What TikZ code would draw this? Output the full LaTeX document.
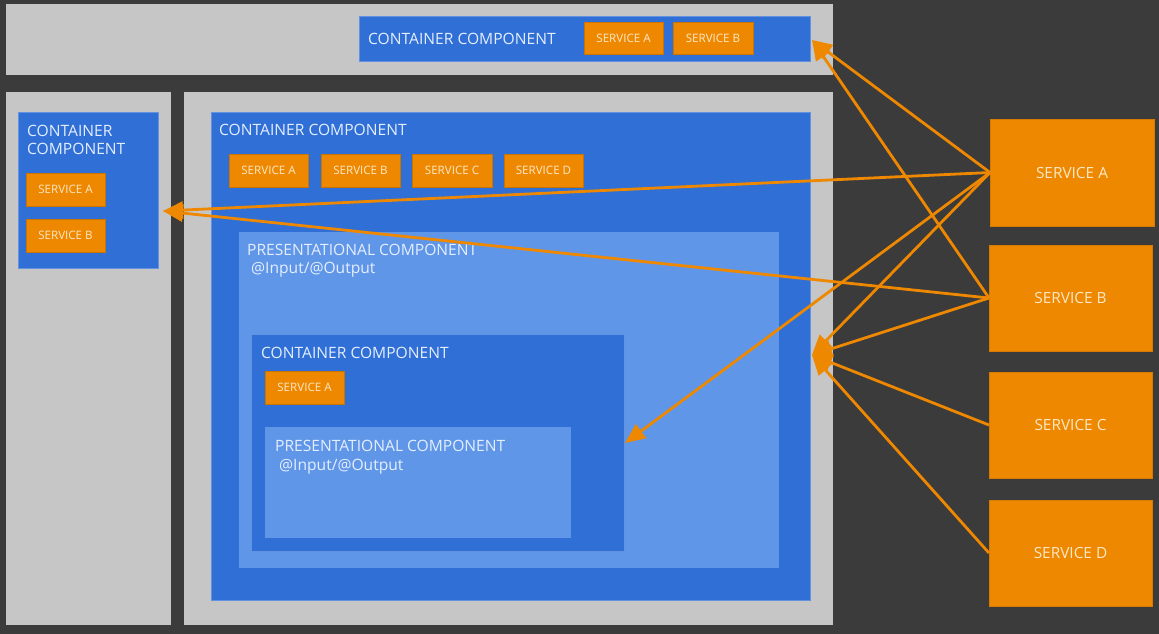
\documentclass[tikz,border=0pt]{standalone}
\usepackage{fontspec}
\setmainfont{Open Sans}
\usetikzlibrary{fit,arrows.meta}
\definecolor{bg}{HTML}{3B3B3B}
\definecolor{panel}{HTML}{C6C6C6}
\definecolor{cblue}{HTML}{2F6FD6}
\definecolor{pblue}{HTML}{6096E8}
\definecolor{orng}{HTML}{EE8800}
\definecolor{txtw}{HTML}{E4EEFF}
\definecolor{txto}{HTML}{FDE8C6}
\begin{document}
\begin{tikzpicture}[x=1pt,y=-1pt,
  box/.style={inner sep=0pt, outer sep=0pt},
  panelbox/.style={box, fill=panel},
  contbox/.style={box, fill=cblue, draw=cblue!75!white, line width=0.8pt},
  presbox/.style={box, fill=pblue},
  smalltxt/.style={inner sep=0pt, text=txto, font=\fontsize{11.6}{14}\selectfont},
  bigtxt/.style={inner sep=0pt, text=txto, font=\fontsize{15.4}{18}\selectfont},
  svcsmall/.style={box, fill=orng, draw=orng!85!black, line width=0.5pt, label={[smalltxt]center:#1}},
  svcbig/.style={box, fill=orng, draw=orng!90!black, line width=0.5pt, label={[bigtxt]center:#1}},
  lbl/.style={anchor=base west, inner sep=0pt, text=txtw, font=\fontsize{15.6}{18}\selectfont},
  link/.style={draw=orng, line width=2.8pt, -{Triangle[length=20pt,width=17pt]}}]

\fill[bg] (0,0) rectangle (1159,634);
\useasboundingbox (0,0) rectangle (1159,634);

% panels
\node[panelbox, fit={(6,4) (833,75)}] (topP) {};
\node[panelbox, fit={(6,92) (171,625)}] (leftP) {};
\node[panelbox, fit={(184,92) (833,625)}] (bigP) {};

% top container
\node[contbox, fit={(359,16) (810,61)}] (topC) {};
\node[lbl] (topL) at (368,45) {CONTAINER COMPONENT};
\node[svcsmall=SERVICE A, fit={(584,22) (663,54)}] (topSA) {};
\node[svcsmall=SERVICE B, fit={(673,22) (753,54)}] (topSB) {};

% left container
\node[contbox, fit={(18,112) (158,268)}] (leftC) {};
\node[lbl] (leftL1) at (27,136) {CONTAINER};
\node[lbl] (leftL2) at (27,154) {COMPONENT};
\node[svcsmall=SERVICE A, fit={(26,173) (105,206)}] (leftSA) {};
\node[svcsmall=SERVICE B, fit={(26,219) (105,252)}] (leftSB) {};

% big container
\node[contbox, fit={(211,112) (810,600)}] (bigC) {};
\node[lbl] (bigL) at (219,135) {CONTAINER COMPONENT};
\node[svcsmall=SERVICE A, fit={(229,154) (308,187)}] (bigSA) {};
\node[svcsmall=SERVICE B, fit={(321,154) (400,187)}] (bigSB) {};
\node[svcsmall=SERVICE C, fit={(412,154) (492,187)}] (bigSC) {};
\node[svcsmall=SERVICE D, fit={(504,154) (583,187)}] (bigSD) {};

% presentational
\node[presbox, fit={(239,232) (779,568)}] (pres) {};
\node[lbl] (presL1) at (247,255) {PRESENTATIONAL COMPONENT};
\node[lbl] (presL2) at (251,273) {@Input/@Output};

% inner container
\node[contbox, fit={(251,334) (624,551)}] (innC) {};
\node[lbl] (innL) at (261,358) {CONTAINER COMPONENT};
\node[svcsmall=SERVICE A, fit={(265,371) (344,404)}] (innSA) {};

% inner presentational
\node[presbox, fit={(265,427) (571,538)}] (innP) {};
\node[lbl] (innPL1) at (275,451) {PRESENTATIONAL COMPONENT};
\node[lbl] (innPL2) at (279,470) {@Input/@Output};

% services
\node[svcbig=SERVICE A, fit={(990,119) (1154,226)}] (sA) {};
\node[svcbig=SERVICE B, fit={(989,245) (1152,351)}] (sB) {};
\node[svcbig=SERVICE C, fit={(989,372) (1152,478)}] (sC) {};
\node[svcbig=SERVICE D, fit={(989,500) (1152,606)}] (sD) {};

\coordinate (topTip) at (812,40);
\coordinate (leftTip) at (163,211);
\coordinate (bigTip) at (812,355);
\coordinate (innTip) at (625,443);

% connectors
\draw[link] (sA.west) -- (topTip);
\draw[link] (sB.west) -- (topTip);
\draw[link] (sA.west) -- (leftTip);
\draw[link] (sB.west) -- (leftTip);
\draw[link] (sA.west) -- (innTip);
\draw[link] (sA.west) -- (bigTip);
\draw[link] (sB.west) -- (bigTip);
\draw[link] (sC.west) -- (bigTip);
\draw[link] (sD.west) -- (bigTip);
\end{tikzpicture}
\end{document}
